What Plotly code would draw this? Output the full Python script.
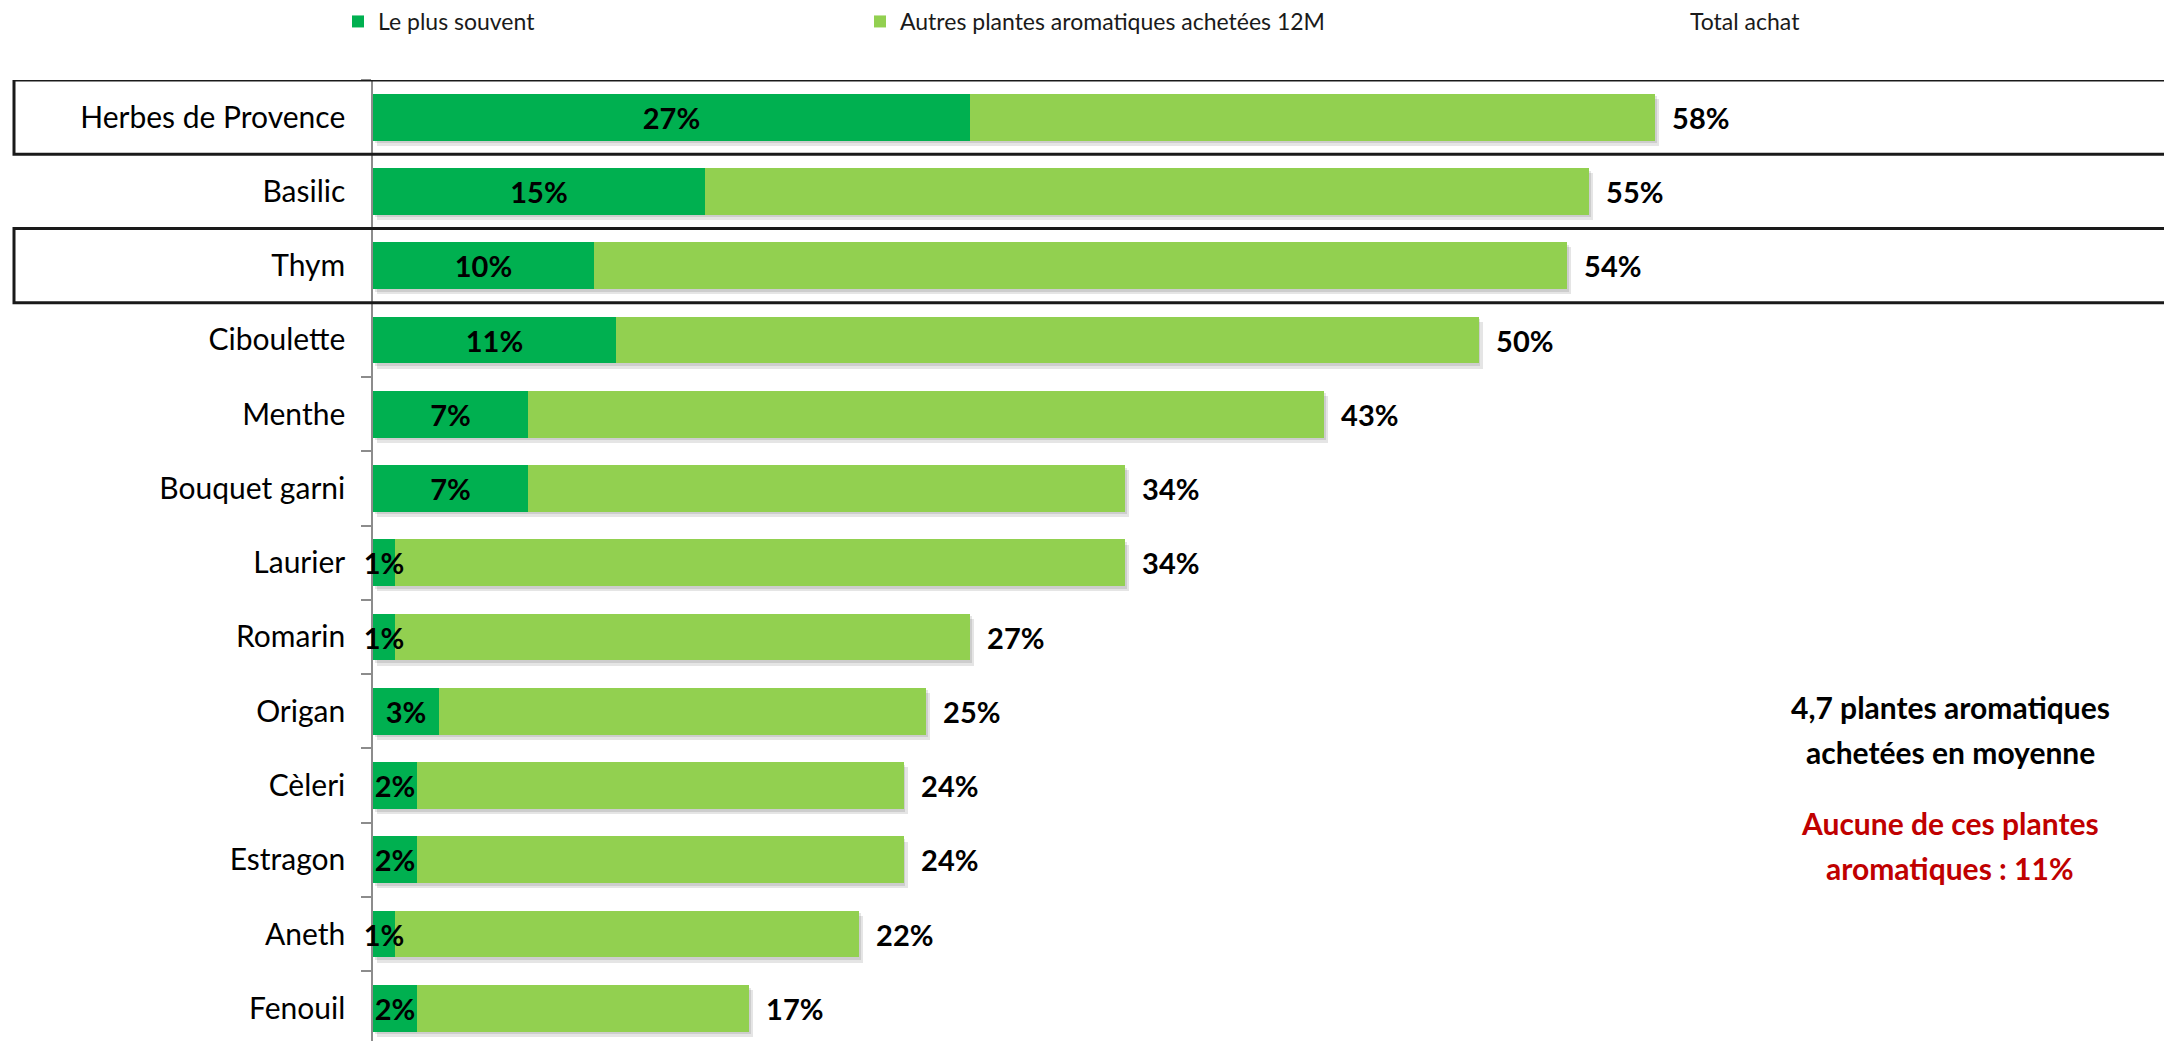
import plotly.graph_objects as go

# ---- data ----
categories = ["Herbes de Provence", "Basilic", "Thym", "Ciboulette", "Menthe",
              "Bouquet garni", "Laurier", "Romarin", "Origan", "Cèleri",
              "Estragon", "Aneth", "Fenouil"]
plus_souvent = [27, 15, 10, 11, 7, 7, 1, 1, 3, 2, 2, 1, 2]
total_achat = [58, 55, 54, 50, 43, 34, 34, 27, 25, 24, 24, 22, 17]
autres = [t - p for t, p in zip(total_achat, plus_souvent)]
highlighted = ["Herbes de Provence", "Thym"]
series_names = ["Le plus souvent", "Autres plantes aromatiques achetées 12M", "Total achat"]
note_lines = ["4,7 plantes aromatiques", "achetées en moyenne"]
aucune_lines = ["Aucune de ces plantes", "aromatiques : 11%"]

# ---- style ----
FONT = "Lato"
DARK = "#00B050"
LIGHT = "#92D050"
BAR_W = 0.63
W, H = 2164, 1041
ML, MT = 373, 78
X_MAX = 81.0
Y_RANGE = [12.44, -0.5]
LABEL_SIZE = 29

fig = go.Figure()

# soft drop shadow under each full bar
fig.add_trace(go.Bar(
    y=categories, x=total_achat, base=0.18, orientation="h",
    width=BAR_W, offset=-BAR_W / 2 + 0.07,
    marker=dict(color="rgba(0,0,0,0.10)", line=dict(width=0)),
    showlegend=False, hoverinfo="skip",
))
fig.add_trace(go.Bar(
    y=categories, x=total_achat, base=0.08, orientation="h",
    width=BAR_W, offset=-BAR_W / 2 + 0.035,
    marker=dict(color="rgba(0,0,0,0.10)", line=dict(width=0)),
    showlegend=False, hoverinfo="skip",
))

fig.add_trace(go.Bar(
    y=categories, x=plus_souvent, base=0, orientation="h", name=series_names[0],
    width=BAR_W, marker=dict(color=DARK, line=dict(width=0)),
    legend="legend",
))
fig.add_trace(go.Bar(
    y=categories, x=autres, base=plus_souvent, orientation="h", name=series_names[1],
    width=BAR_W, marker=dict(color=LIGHT, line=dict(width=0)),
    legend="legend2",
))
# labels of the dark segment, drawn on top so they can overflow small segments
fig.add_trace(go.Bar(
    y=categories, x=plus_souvent, base=0, orientation="h", name=series_names[0],
    width=BAR_W, marker=dict(color="rgba(0,0,0,0)", line=dict(width=0)),
    text=[f"{v}%" for v in plus_souvent], textposition="inside",
    insidetextanchor="middle", textangle=0, constraintext="none", cliponaxis=False,
    textfont=dict(family=FONT, size=LABEL_SIZE, color="black", weight="bold"),
    showlegend=False, hoverinfo="skip",
))
fig.add_trace(go.Bar(
    y=categories, x=total_achat, base=0, orientation="h", name=series_names[2],
    width=BAR_W, marker=dict(color="rgba(0,0,0,0)", line=dict(width=0)),
    text=[f"\u00a0\u00a0{v}%" for v in total_achat], textposition="outside",
    textangle=0, constraintext="none", cliponaxis=False,
    textfont=dict(family=FONT, size=LABEL_SIZE, color="black", weight="bold"),
    legend="legend3",
))

shapes = []
for cat in highlighted:
    i = categories.index(cat)
    shapes.append(dict(type="rect", xref="paper", yref="y",
                       x0=(14 - ML) / (W - ML), x1=1.02,
                       y0=i - 0.5, y1=i + 0.5,
                       line=dict(color="#1a1a1a", width=3), layer="above"))

def py2paper(py):
    return 1 - (py - MT) / (H - MT)

annotations = []
for txt, py in zip(note_lines, [706, 751]):
    annotations.append(dict(text=f"<b>{txt}</b>", xref="paper", yref="paper",
                            x=(1950 - ML) / (W - ML), y=py2paper(py),
                            xanchor="center", yanchor="middle", showarrow=False,
                            font=dict(family=FONT, size=30, color="black")))
for txt, py in zip(aucune_lines, [823, 868]):
    annotations.append(dict(text=f"<b>{txt}</b>", xref="paper", yref="paper",
                            x=(1950 - ML) / (W - ML), y=py2paper(py),
                            xanchor="center", yanchor="middle", showarrow=False,
                            font=dict(family=FONT, size=30, color="#C00000")))

leg_common = dict(orientation="h", yanchor="middle", y=py2paper(19), xanchor="left",
                  font=dict(family=FONT, size=23, color="#1a1a1a"),
                  bgcolor="rgba(0,0,0,0)", borderwidth=0)

fig.update_layout(
    width=W, height=H,
    margin=dict(l=ML, r=0, t=MT, b=0, pad=0),
    paper_bgcolor="white", plot_bgcolor="white",
    barmode="overlay",
    bargap=0,
    uniformtext=dict(minsize=LABEL_SIZE, mode="show"),
    font=dict(family=FONT, color="black"),
    shapes=shapes,
    annotations=annotations,
    legend=dict(**leg_common, x=(338 - ML) / (W - ML)),
    legend2=dict(**leg_common, x=(860 - ML) / (W - ML)),
    legend3=dict(**leg_common, x=(1650 - ML) / (W - ML)),
    xaxis=dict(range=[0, X_MAX], visible=False, fixedrange=True),
    yaxis=dict(type="category", categoryorder="array", categoryarray=categories,
               range=Y_RANGE, showline=True, linecolor="#8c8c8c", linewidth=1.5,
               ticks="outside", tickson="boundaries", ticklen=10, tickcolor="#8c8c8c",
               tickwidth=1.5, ticklabelstandoff=20, showgrid=False, zeroline=False,
               layer="below traces",
               tickfont=dict(family=FONT, size=30, color="black")),
)

fig.write_html("out.html")
